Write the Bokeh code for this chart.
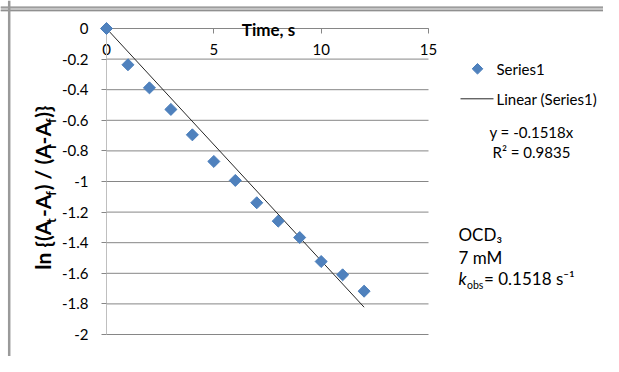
import numpy as np
from bokeh.plotting import figure
from bokeh.models import Range1d, FixedTicker, Label, Span
from bokeh.embed import file_html
from bokeh.resources import INLINE

# ---------------- data ----------------
time_s = [0, 1, 2, 3, 4, 5, 6, 7, 8, 9, 10, 11, 12]
ln_ratio = [0.0, -0.237, -0.388, -0.529, -0.695, -0.869, -0.993,
            -1.139, -1.259, -1.366, -1.523, -1.610, -1.717]
fit_slope = -0.1518
fit_r2 = 0.9835
k_obs = 0.1518
x_ticks = [0, 5, 10, 15]
y_ticks = [0, -0.2, -0.4, -0.6, -0.8, -1, -1.2, -1.4, -1.6, -1.8, -2]
y_tick_labels = ["0", "-0.2", "-0.4", "-0.6", "-0.8", "-1", "-1.2",
                 "-1.4", "-1.6", "-1.8", "-2"]
series_label = "Series1"
trend_label = "Linear (Series1)"
x_title = "Time, s"
sample_lines = ["OCD\u2083", "7 mM"]

# ---------------- layout / style ----------------
FONT = "Lato"
X_MIN, X_MAX = 0, 15
Y_MIN, Y_MAX = -2, 0
PAGE_OX, PAGE_OY = 0, 0            # picture position of the canvas origin
CANVAS_W, CANVAS_H = 603, 356
PX_X0, PX_X1 = 106, 428            # picture x of x = 0 and x = 15
PX_Y0, PX_Y1 = 28, 334             # picture y of y = 0 and y = -2
KX = (PX_X1 - PX_X0) / (X_MAX - X_MIN)
KY = (PX_Y1 - PX_Y0) / (Y_MAX - Y_MIN)
GRID = "#868686"
MARKER_FILL = "#4F81BD"
MARKER_LINE = "#4A7EBB"
BASE_FIX = 0.33                    # baseline correction, fraction of font size


def dx(page_x):
    return X_MIN + (page_x - PX_X0) / KX


def dy(page_y):
    return Y_MAX - (page_y - PX_Y0) / KY


p = figure(width=CANVAS_W, height=CANVAS_H,
           x_range=Range1d(dx(PAGE_OX), dx(PAGE_OX + CANVAS_W)),
           y_range=Range1d(dy(PAGE_OY + CANVAS_H), dy(PAGE_OY)),
           min_border=0, min_border_left=0, min_border_right=0,
           min_border_top=0, min_border_bottom=0,
           output_backend="svg", toolbar_location=None,
           outline_line_color=None, background_fill_color="white",
           border_fill_color="white")

# sheet border lines (double line on top, single line at left)
p.add_layout(Span(location=dy(8.5), dimension="width", line_color="#c4c4c4",
                  line_width=4.5, level="underlay"))
p.add_layout(Span(location=dy(6.6), dimension="width", line_color="#909090",
                  line_width=1.3, level="underlay"))
p.add_layout(Span(location=dy(10.2), dimension="width", line_color="#909090",
                  line_width=1.3, level="underlay"))
p.add_layout(Span(location=dx(8.7), dimension="height", line_color="#9a9a9a",
                  line_width=2.5, level="underlay"))

# horizontal gridlines over the plot area
p.segment(x0=[X_MIN] * len(y_ticks), y0=y_ticks,
          x1=[X_MAX] * len(y_ticks), y1=y_ticks,
          line_color=GRID, line_width=1, level="underlay")
p.xgrid.visible = False
p.ygrid.visible = False

# x axis drawn at y = 0 (top), labels beneath the line
xa = p.xaxis[0]
xa.fixed_location = 0
xa.bounds = (X_MIN, X_MAX)
xa.ticker = FixedTicker(ticks=x_ticks)
xa.axis_line_color = GRID
xa.major_tick_line_color = GRID
xa.major_tick_out = 5
xa.major_tick_in = 0
xa.minor_tick_line_color = None
xa.minor_tick_out = 0
xa.major_label_standoff = 10
xa.major_label_text_font = FONT
xa.major_label_text_font_size = "15px"
xa.major_label_text_color = "black"
xa.level = "underlay"

ya = p.yaxis[0]
ya.fixed_location = 0
ya.bounds = (Y_MIN, Y_MAX)
ya.ticker = FixedTicker(ticks=y_ticks)
ya.major_label_overrides = dict(zip(y_ticks, y_tick_labels))
ya.axis_line_color = "#BFBFBF"
ya.major_tick_line_color = GRID
ya.major_tick_out = 5
ya.major_tick_in = 0
ya.minor_tick_line_color = None
ya.minor_tick_out = 0
ya.major_label_standoff = 13
ya.major_label_text_font = FONT
ya.major_label_text_font_size = "15px"
ya.major_label_text_color = "black"
ya.level = "underlay"

# ---------------- marks ----------------
trend_x = [time_s[0], time_s[-1]]
trend_y = [fit_slope * t for t in trend_x]
p.line(trend_x, trend_y, line_color="#262626", line_width=1)
p.scatter(time_s, ln_ratio, marker="square", angle=np.pi / 4, size=8.5,
          fill_color=MARKER_FILL, line_color=MARKER_LINE)

# ---------------- legend (keys drawn as in the reference) ----------------
p.scatter([dx(477)], [dy(68.3)], marker="square", angle=np.pi / 4, size=7.5,
          fill_color=MARKER_FILL, line_color=MARKER_LINE)
p.segment(x0=[dx(460)], y0=[dy(98.3)], x1=[dx(493)], y1=[dy(98.3)],
          line_color="#262626", line_width=1)


def add_label(text, px, py, size=15, align="left", style="normal",
              rotated=False):
    """px, py: picture position of the text's alphabetic baseline start."""
    shift = BASE_FIX * size
    if rotated:
        px -= shift
    else:
        py -= shift
    p.add_layout(Label(x=dx(px), y=dy(py), text=text, text_font=FONT,
                       text_font_size=f"{size}px", text_align=align,
                       text_baseline="alphabetic", text_font_style=style,
                       text_color="black",
                       angle=np.pi / 2 if rotated else 0.0))


add_label(series_label, 496, 73.5)
add_label(trend_label, 496, 103.3)

# ---------------- texts ----------------
add_label(x_title, 268, 34.5, size=17, align="center", style="bold")
add_label(f"y = {fit_slope}x", 531, 136.7, align="center")
add_label(f"R\u00b2 = {fit_r2}", 531, 156.7, align="center")
add_label(sample_lines[0], 458, 240, size=17)
add_label(sample_lines[1], 458, 262.5, size=17)
add_label("k", 458, 284, size=17, style="italic")
add_label("obs", 466.5, 287.5, size=10.5)
add_label(f"= {k_obs} s\u207b\u00b9", 483.5, 284, size=17)

# rotated y-axis title made of pieces (subscripts lowered)
W_BOLD = {"l": 0.24, "n": 0.53, "{": 0.30, "(": 0.29, ")": 0.29, "}": 0.30,
          "A": 0.63, "-": 0.33, "/": 0.35, " ": 0.18, "t": 0.36, "f": 0.32,
          "i": 0.24}
MAIN, SUB = 21, 13
SUB_GAP = 1.2
pieces = [("ln {(A", MAIN), ("t", SUB), ("-A", MAIN), ("f", SUB),
          (") / (A", MAIN), ("i", SUB), ("-A", MAIN), ("f", SUB),
          (")}", MAIN)]
widths = [sum(W_BOLD[c] for c in t) * s + (2 * SUB_GAP if s == SUB else 0)
          for t, s in pieces]
total = sum(widths)
start_y = 187 + total / 2
acc = 0.0
for (t, s), w in zip(pieces, widths):
    if s == MAIN:
        add_label(t, 49, start_y - acc, size=s, style="bold", rotated=True)
    else:
        add_label(t, 55, start_y - acc - SUB_GAP, size=s, style="bold",
                  rotated=True)
    acc += w

open("out.html", "w").write(file_html(p, INLINE))
